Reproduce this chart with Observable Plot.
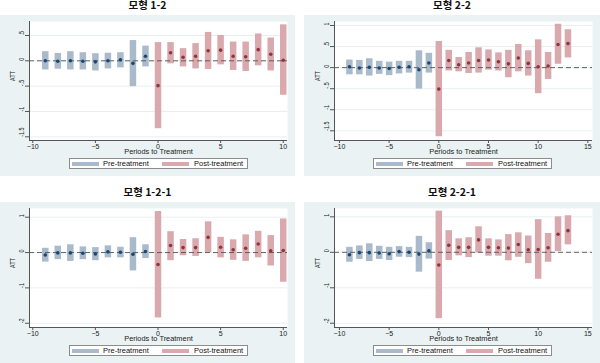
<!DOCTYPE html>
<html>
<head>
<meta charset="utf-8">
<script src="https://cdn.jsdelivr.net/npm/d3@7"></script>
<script src="https://cdn.jsdelivr.net/npm/@observablehq/plot@0.6"></script>
<style>
  html, body { margin: 0; padding: 0; background: #fff; }
  body { width: 600px; height: 363px; position: relative; overflow: hidden; font-family: "Liberation Sans", Arial, sans-serif; }
  .panel { position: absolute; background: #eaf2f3; }
  .panel svg { position: absolute; left: 0; top: 0; }
  .title { position: absolute; font-family: "Noto Sans CJK KR", sans-serif; font-weight: bold; font-size: 10.5px; line-height: 10px; height: 11px; text-align: center; color: #111; white-space: nowrap; }
  .legend { position: absolute; left: 69px; top: 143px; width: 179px; height: 11px; box-sizing: border-box; border: 1px solid #8c8c8c; background: #fff; }
  .sw { position: absolute; top: 2.5px; width: 27px; height: 4px; }
  .lt { position: absolute; top: 0; font-size: 7.5px; line-height: 9px; color: #111; white-space: nowrap; }
</style>
</head>
<body>
<script>
// ---------- data ----------
const titles = ["모형 1-2", "모형 2-2", "모형 1-2-1", "모형 2-2-1"];
const legendLabels = ["Pre-treatment", "Post-treatment"];
const xTitle = "Periods to Treatment";
const yTitle = "ATT";

const periodsA = [-9,-8,-7,-6,-5,-4,-3,-2,-1,0,1,2,3,4,5,6,7,8,9,10];
const periodsB = [-9,-8,-7,-6,-5,-4,-3,-2,-1,0,1,2,3,4,5,6,7,8,9,10,11,12,13];

// 모형 1-2
const att12 = [0.00,-0.01,0.00,-0.01,-0.02,0.00,0.02,-0.05,0.09,-0.49,0.16,0.07,0.09,0.20,0.21,0.09,0.08,0.22,0.13,0.01];
const lo12  = [-0.18,-0.165,-0.18,-0.18,-0.20,-0.16,-0.14,-0.51,-0.12,-1.34,-0.06,-0.12,-0.16,-0.17,-0.08,-0.19,-0.21,-0.10,-0.20,-0.68];
const hi12  = [0.18,0.145,0.18,0.16,0.14,0.15,0.16,0.40,0.29,0.36,0.36,0.24,0.34,0.56,0.50,0.37,0.37,0.53,0.45,0.71];

// 모형 2-2
const att22 = [0.02,-0.01,0.01,-0.01,-0.02,0.01,0.02,-0.05,0.11,-0.51,0.17,0.07,0.11,0.17,0.18,0.14,0.09,0.23,0.10,0.02,0.04,0.55,0.57];
const lo22  = [-0.17,-0.17,-0.20,-0.16,-0.19,-0.15,-0.13,-0.51,-0.13,-1.64,-0.08,-0.10,-0.14,-0.13,-0.06,-0.08,-0.24,-0.10,-0.20,-0.62,-0.28,0.08,0.23];
const hi22  = [0.18,0.17,0.21,0.15,0.13,0.15,0.15,0.40,0.34,0.62,0.41,0.24,0.36,0.47,0.42,0.35,0.41,0.55,0.40,0.66,0.36,1.03,0.90];

// 모형 1-2-1
const att121 = [-0.07,-0.01,-0.01,-0.02,-0.04,0.02,0.01,-0.05,0.03,-0.34,0.20,0.14,0.14,0.43,0.15,0.08,0.12,0.24,0.05,0.06];
const lo121  = [-0.27,-0.20,-0.25,-0.20,-0.23,-0.15,-0.15,-0.52,-0.17,-1.85,-0.23,-0.09,-0.11,0.00,-0.15,-0.22,-0.25,-0.15,-0.38,-0.84];
const hi121  = [0.12,0.18,0.22,0.16,0.14,0.19,0.15,0.42,0.22,1.16,0.59,0.37,0.39,0.87,0.43,0.36,0.50,0.60,0.48,0.95];

// 모형 2-2-1
const att221 = [-0.07,-0.01,-0.01,-0.02,-0.04,0.02,0.00,-0.05,0.04,-0.36,0.20,0.14,0.14,0.35,0.14,0.13,0.12,0.22,0.07,0.08,0.13,0.51,0.61];
const lo221  = [-0.28,-0.20,-0.26,-0.20,-0.23,-0.14,-0.15,-0.56,-0.19,-1.87,-0.23,-0.10,-0.15,-0.02,-0.11,-0.11,-0.24,-0.14,-0.32,-0.76,-0.28,0.02,0.21];
const hi221  = [0.14,0.18,0.24,0.17,0.14,0.16,0.14,0.45,0.27,1.16,0.61,0.38,0.41,0.72,0.38,0.35,0.50,0.55,0.46,0.92,0.53,1.00,1.03];

// ticks
const xTicksA = [-10,-5,0,5,10];
const xTicksB = [-10,-5,0,5,10,15];
const yTicks12 = [0.5,0,-0.5,-1,-1.5];
const yLabels12 = [".5","0","-.5","-1","-1.5"];
const yTicks22 = [1,0.5,0,-0.5,-1,-1.5];
const yLabels22 = ["1",".5","0","-.5","-1","-1.5"];
const yTicksC = [1,0,-1,-2];
const yLabelsC = ["1","0","-1","-2"];

// ---------- styles ----------
const preBar = "#a9bacb", prePt = "#1a476f";
const postBar = "#d9a9ae", postPt = "#90353b";
const axisColor = "#555";

const specs = [
  {title: titles[0], left: 0,   top: 15,  w: 295, ml: 29, periods: periodsA, att: att12,  lo: lo12,  hi: hi12,
   xDomain: [-10.26, 10.34], yDomain: [-1.573, 0.776], xTicks: xTicksA, yTicks: yTicks12, yLabels: yLabels12},
  {title: titles[1], left: 304, top: 15,  w: 296, ml: 30, periods: periodsB, att: att22,  lo: lo22,  hi: hi22,
   xDomain: [-10.5, 15.47], yDomain: [-1.73, 1.095], xTicks: xTicksB, yTicks: yTicks22, yLabels: yLabels22},
  {title: titles[2], left: 0,   top: 202, w: 295, ml: 29, periods: periodsA, att: att121, lo: lo121, hi: hi121,
   xDomain: [-10.26, 10.34], yDomain: [-2.12, 1.246], xTicks: xTicksA, yTicks: yTicksC, yLabels: yLabelsC},
  {title: titles[3], left: 304, top: 202, w: 296, ml: 30, periods: periodsB, att: att221, lo: lo221, hi: hi221,
   xDomain: [-10.5, 15.47], yDomain: [-2.12, 1.235], xTicks: xTicksB, yTicks: yTicksC, yLabels: yLabelsC}
];

function draw(spec) {
  const rows = spec.periods.map((t, i) => ({t, att: spec.att[i], lo: spec.lo[i], hi: spec.hi[i]}));
  const pre = rows.filter(d => d.t < 0);
  const post = rows.filter(d => d.t >= 0);

  const svg = Plot.plot({
    width: spec.w, height: 161,
    marginLeft: spec.ml, marginRight: 8, marginTop: 6, marginBottom: 36,
    style: {background: "transparent", fontFamily: "'Liberation Sans', Arial, sans-serif", fontSize: "7px", color: "#222", overflow: "visible"},
    x: {domain: spec.xDomain, axis: null},
    y: {domain: spec.yDomain, axis: null},
    marks: [
      Plot.frame({fill: "white", stroke: null}),
      Plot.gridY(spec.yTicks, {stroke: "#e2ebee", strokeOpacity: 1, strokeWidth: 0.8}),
      Plot.ruleX(pre,  {x: "t", y1: "lo", y2: "hi", stroke: preBar,  strokeWidth: 6.5}),
      Plot.ruleX(post, {x: "t", y1: "lo", y2: "hi", stroke: postBar, strokeWidth: 6.5}),
      Plot.ruleY([0], {stroke: "#555", strokeWidth: 0.9, strokeDasharray: "5,3"}),
      Plot.dot(pre,  {x: "t", y: "att", r: 1.8, fill: prePt,  stroke: null}),
      Plot.dot(post, {x: "t", y: "att", r: 1.8, fill: postPt, stroke: null}),
      Plot.ruleX([spec.xDomain[0]], {stroke: axisColor, strokeWidth: 1}),
      Plot.ruleY([spec.yDomain[0]], {stroke: axisColor, strokeWidth: 1}),
      Plot.axisX({ticks: spec.xTicks, tickSize: 3, tickPadding: 0.3, fontSize: 7, stroke: axisColor, fill: "#222", label: null}),
      Plot.axisY({ticks: spec.yTicks, tickSize: 4, tickFormat: () => "", stroke: axisColor, label: null}),
      Plot.text(spec.yTicks, {y: d => d, text: (d, i) => spec.yLabels[i], frameAnchor: "left", dx: -8, rotate: -90, fontSize: 7, fill: "#222"}),
      Plot.text([yTitle], {text: d => d, frameAnchor: "left", dx: -17, rotate: -90, fontSize: 7, fill: "#222"}),
      Plot.text([xTitle], {text: d => d, frameAnchor: "bottom", dy: 13.3, fontSize: 7.4, fill: "#222"})
    ]
  });

  // Slightly compress rotated labels along their length (as in the reference)
  d3.select(svg).selectAll("text").each(function() {
    const tr = this.getAttribute("transform");
    if (tr && tr.includes("rotate(-90)")) {
      this.setAttribute("transform", tr.replace("rotate(-90)", "scale(1,0.78) rotate(-90)"));
    }
  });

  const panel = document.createElement("div");
  panel.className = "panel";
  panel.style.left = spec.left + "px";
  panel.style.top = spec.top + "px";
  panel.style.width = spec.w + "px";
  panel.style.height = "161px";
  panel.appendChild(svg);

  const legend = document.createElement("div");
  legend.className = "legend";
  legend.innerHTML =
    `<span class="sw" style="left:2px;background:${preBar}"></span>` +
    `<span class="lt" style="left:33px">${legendLabels[0]}</span>` +
    `<span class="sw" style="left:92px;background:${postBar}"></span>` +
    `<span class="lt" style="left:124px">${legendLabels[1]}</span>`;
  panel.appendChild(legend);
  document.body.appendChild(panel);

  const title = document.createElement("div");
  title.className = "title";
  title.textContent = spec.title;
  title.style.left = spec.left + "px";
  title.style.width = spec.w + "px";
  title.style.top = (spec.top - 15) + "px";
  document.body.appendChild(title);
}

specs.forEach(draw);
</script>
</body>
</html>
